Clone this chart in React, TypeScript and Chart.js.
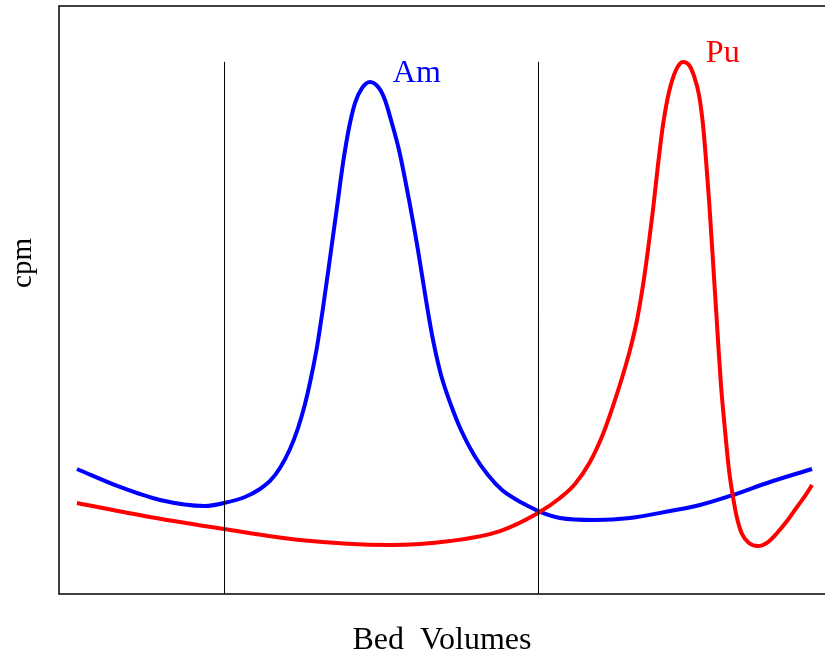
import { useEffect, useRef } from "react";
import { Chart, registerables } from "chart.js";

Chart.register(...registerables);

// Bed volumes (arbitrary units 0..100) and cpm (arbitrary units 0..100)
const amX = [2.33, 7.91, 13.1, 18.94, 21.4, 24.12, 26.07, 27.37, 28.66, 29.96, 31.0, 31.91, 32.68, 33.46, 34.24, 35.15, 36.06, 36.84, 37.61, 38.39, 39.3, 40.34, 41.5, 42.28, 43.06, 44.1, 45.4, 46.56, 47.6, 48.51, 49.55, 50.84, 52.14, 53.83, 55.64, 57.46, 59.4, 61.09, 62.39, 64.98, 69.52, 74.06, 79.25, 83.14, 87.42, 92.22, 97.67];
const amY = [21.26, 18.2, 15.99, 14.97, 15.48, 16.5, 17.86, 19.22, 21.43, 24.66, 28.23, 32.31, 36.73, 42.01, 48.64, 57.14, 65.82, 73.3, 79.25, 83.5, 86.05, 87.07, 86.05, 84.01, 80.61, 75.51, 67.01, 58.5, 50.0, 43.2, 37.24, 32.14, 27.89, 23.64, 20.24, 17.69, 15.99, 14.8, 13.95, 12.93, 12.59, 12.93, 14.12, 15.14, 16.84, 19.05, 21.26];

const puX = [2.33, 11.8, 21.4, 31.26, 42.93, 50.71, 57.2, 62.13, 64.98, 66.93, 68.87, 70.56, 71.85, 73.02, 74.06, 74.97, 75.75, 76.39, 77.04, 77.69, 78.34, 79.12, 80.03, 80.93, 81.71, 82.36, 83.01, 83.53, 83.92, 84.31, 84.69, 85.08, 85.47, 85.86, 86.38, 86.9, 87.42, 87.94, 88.59, 89.49, 90.66, 91.96, 93.13, 94.42, 95.72, 96.76, 97.67];
const puY = [15.48, 13.1, 11.05, 9.18, 8.33, 9.01, 10.71, 13.78, 16.33, 18.71, 22.45, 27.21, 31.97, 36.73, 41.5, 46.6, 52.55, 58.5, 65.31, 72.96, 79.76, 85.37, 89.12, 90.48, 89.97, 88.1, 84.86, 79.76, 73.81, 67.01, 59.35, 51.36, 43.2, 35.54, 27.89, 21.09, 16.5, 12.93, 10.2, 8.67, 8.16, 8.84, 10.37, 12.41, 14.8, 16.67, 18.54];

const cutX = [21.47, 62.19];
const cutTop = 90.5;

const seriesNames = ["Am", "Pu"];
const seriesColors = ["#0000ff", "#ff0000"];
const labelPosX = [43.3, 83.9];
const labelPosY = [87.07, 90.48];

const xTitle = "Bed  Volumes";
const yTitle = "cpm";

export default function App() {
  const ref = useRef<HTMLCanvasElement | null>(null);

  useEffect(() => {
    const canvas = ref.current;
    if (!canvas) return;

    const toPts = (xs: number[], ys: number[]) => xs.map((x, i) => ({ x, y: ys[i] }));

    const cutSets = cutX.map((c) => ({
      label: "cut",
      data: [
        { x: c, y: 0 },
        { x: c, y: cutTop },
      ],
      borderColor: "#000000",
      borderWidth: 1,
      pointRadius: 0,
      tension: 0,
    }));

    const framePlugin = {
      id: "frameAndText",
      afterDraw(chart: any) {
        const { ctx, chartArea } = chart;
        const { left, top, right, bottom } = chartArea;
        ctx.save();
        ctx.strokeStyle = "#000000";
        ctx.lineWidth = 1.5;
        ctx.beginPath();
        ctx.moveTo(right, top);
        ctx.lineTo(left, top);
        ctx.lineTo(left, bottom);
        ctx.lineTo(right, bottom);
        ctx.stroke();

        const xs = chart.scales.x;
        const ys = chart.scales.y;
        ctx.font = "32px 'Liberation Serif'";
        ctx.textAlign = "left";
        ctx.textBaseline = "alphabetic";
        seriesNames.forEach((n, i) => {
          ctx.fillStyle = seriesColors[i];
          ctx.fillText(n, xs.getPixelForValue(labelPosX[i]), ys.getPixelForValue(labelPosY[i]));
        });

        ctx.fillStyle = "#000000";
        ctx.font = "32px 'Liberation Serif'";
        ctx.textAlign = "center";
        ctx.fillText(xTitle, 442, 649);

        ctx.font = "29px 'Liberation Serif'";
        ctx.translate(31, 263);
        ctx.rotate(-Math.PI / 2);
        ctx.textAlign = "center";
        ctx.fillText(yTitle, 0, 0);
        ctx.restore();
      },
    };

    const chart = new Chart(canvas, {
      type: "line",
      data: {
        datasets: [
          ...cutSets,
          {
            label: seriesNames[1],
            data: toPts(puX, puY),
            borderColor: seriesColors[1],
            borderWidth: 4,
            pointRadius: 0,
            cubicInterpolationMode: "monotone",
          },
          {
            label: seriesNames[0],
            data: toPts(amX, amY),
            borderColor: seriesColors[0],
            borderWidth: 4,
            pointRadius: 0,
            cubicInterpolationMode: "monotone",
          },
        ] as any,
      },
      options: {
        animation: false,
        responsive: false,
        maintainAspectRatio: false,
        layout: { padding: { left: 59, top: 6, right: 0, bottom: 60 } },
        plugins: { legend: { display: false }, tooltip: { enabled: false } },
        scales: {
          x: { type: "linear", min: 0, max: 100, display: false },
          y: { type: "linear", min: 0, max: 100, display: false },
        },
      },
      plugins: [framePlugin],
    });

    return () => chart.destroy();
  }, []);

  return (
    <div style={{ position: "fixed", left: 0, top: 0, width: 825, height: 654, overflow: "hidden", background: "#fff" }}>
      <canvas ref={ref} width={830} height={654} style={{ width: 830, height: 654, display: "block" }} />
    </div>
  );
}
